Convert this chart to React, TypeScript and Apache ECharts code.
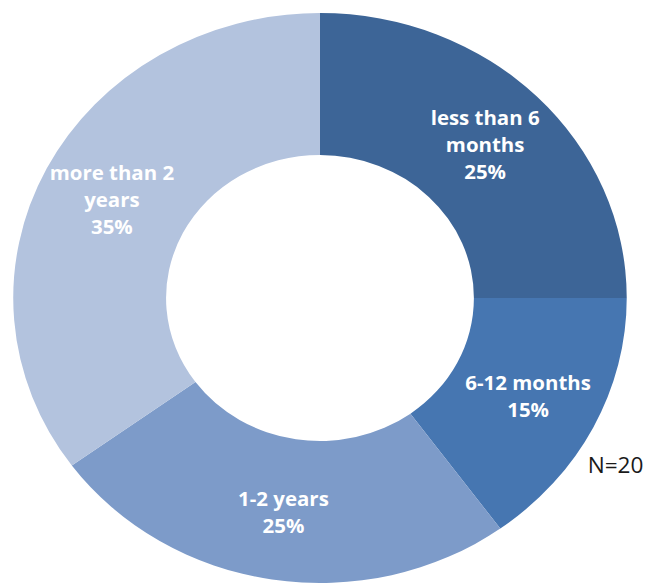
import React, { useEffect, useRef } from "react";
import * as echarts from "echarts";

const categories = ["less than 6 months", "6-12 months", "1-2 years", "more than 2 years"];
const labelLines = [["less than 6", "months"], ["6-12 months"], ["1-2 years"], ["more than 2", "years"]];
const values = [25, 15, 25, 35];
const colors = ["#3D6597", "#4676B1", "#7D9BC9", "#B3C3DE"];
const note = "N=20";

const WIN_W = 649;
const WIN_H = 583;
const STRETCH = 1.0763;
const INNER_W = WIN_W / STRETCH;

export default function App() {
  const ref = useRef<HTMLDivElement>(null);
  useEffect(() => {
    if (!ref.current) return;
    const chart = echarts.init(ref.current, null, { renderer: "svg" });
    chart.setOption({
      animation: false,
      backgroundColor: "#ffffff",
      series: [
        {
          type: "pie",
          center: [297.3, 298],
          radius: [143, 285],
          startAngle: 90,
          clockwise: true,
          avoidLabelOverlap: false,
          labelLine: { show: false },
          emphasis: { disabled: true },
          label: {
            show: true,
            position: "inside",
            color: "#ffffff",
            fontFamily: "Open Sans",
            fontWeight: "bold",
            fontSize: 19,
            lineHeight: 27,
            align: "center",
            formatter: (p: any) => labelLines[p.dataIndex].join("\n") + "\n" + p.value + "%",
          },
          data: categories.map((c, i) => ({
            name: c,
            value: values[i],
            itemStyle: { color: colors[i] },
          })),
        },
      ],
      graphic: [
        {
          type: "text",
          left: 546,
          top: 454,
          style: {
            text: note,
            fill: "#1a1a1a",
            font: "21px 'Open Sans'",
          },
        },
      ],
    });
    return () => chart.dispose();
  }, []);
  return (
    <div
      style={{
        position: "fixed",
        left: 0,
        top: 0,
        width: WIN_W,
        height: WIN_H,
        overflow: "hidden",
        background: "#ffffff",
      }}
    >
      <div
        ref={ref}
        style={{
          width: INNER_W,
          height: WIN_H,
          transform: `scaleX(${STRETCH})`,
          transformOrigin: "0 0",
        }}
      />
    </div>
  );
}
